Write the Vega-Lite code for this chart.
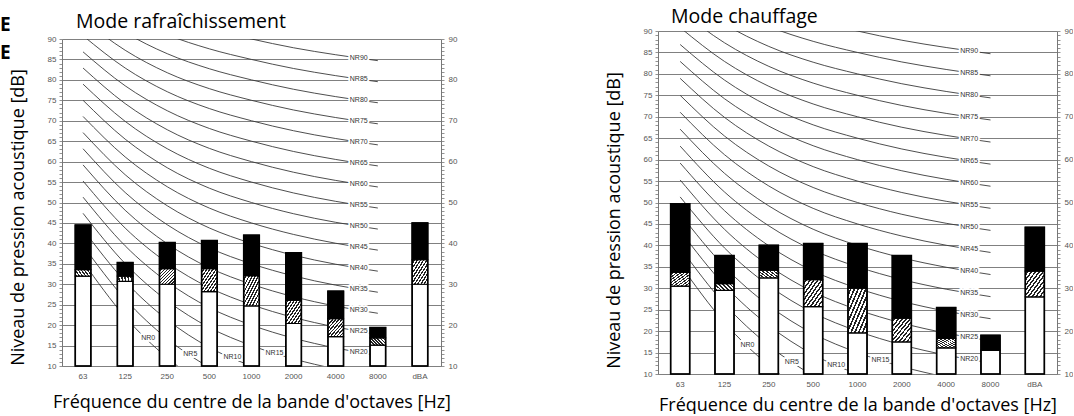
{
  "$schema": "https://vega.github.io/schema/vega-lite/v6.json",
  "background": "white",
  "padding": {"left": 0, "top": 6, "right": 0, "bottom": 0},
  "title": {"text": ["E", "E"], "anchor": "start", "frame": "bounds", "orient": "top", "fontSize": 19, "fontWeight": "bold", "font": "Open Sans", "color": "#000", "lineHeight": 28, "baseline": "top", "dx": -9, "dy": 60},
  "spacing": 217,
  "bounds": "flush",
  "center": true,
  "config": {
    "view": {"stroke": null},
    "font": "Liberation Sans",
    "axisX": {"ticks": false, "labelPadding": 6, "labelFont": "Liberation Sans", "labelFontSize": 8, "labelColor": "#555", "labelAngle": 0, "domain": true, "domainColor": "#808080", "titleFont": "Open Sans", "titleFontSize": 18, "titleFontWeight": "normal", "titleColor": "#000", "grid": false}
  },
  "datasets": {
    "nr": [
      {"nr": 0, "f": "63", "db": 35.5}, {"nr": 0, "f": "125", "db": 22}, {"nr": 0, "f": "250", "db": 12}, {"nr": 0, "f": "500", "db": 4.8}, {"nr": 0, "f": "1000", "db": 0}, {"nr": 0, "f": "2000", "db": -3.5}, {"nr": 0, "f": "4000", "db": -6.1}, {"nr": 0, "f": "8000", "db": -8},
      {"nr": 5, "f": "63", "db": 39.45}, {"nr": 5, "f": "125", "db": 26.35}, {"nr": 5, "f": "250", "db": 16.65}, {"nr": 5, "f": "500", "db": 9.67}, {"nr": 5, "f": "1000", "db": 5}, {"nr": 5, "f": "2000", "db": 1.58}, {"nr": 5, "f": "4000", "db": -0.98}, {"nr": 5, "f": "8000", "db": -2.85},
      {"nr": 10, "f": "63", "db": 43.4}, {"nr": 10, "f": "125", "db": 30.7}, {"nr": 10, "f": "250", "db": 21.3}, {"nr": 10, "f": "500", "db": 14.54}, {"nr": 10, "f": "1000", "db": 10}, {"nr": 10, "f": "2000", "db": 6.65}, {"nr": 10, "f": "4000", "db": 4.15}, {"nr": 10, "f": "8000", "db": 2.3},
      {"nr": 15, "f": "63", "db": 47.35}, {"nr": 15, "f": "125", "db": 35.05}, {"nr": 15, "f": "250", "db": 25.95}, {"nr": 15, "f": "500", "db": 19.41}, {"nr": 15, "f": "1000", "db": 15}, {"nr": 15, "f": "2000", "db": 11.73}, {"nr": 15, "f": "4000", "db": 9.28}, {"nr": 15, "f": "8000", "db": 7.45},
      {"nr": 20, "f": "63", "db": 51.3}, {"nr": 20, "f": "125", "db": 39.4}, {"nr": 20, "f": "250", "db": 30.6}, {"nr": 20, "f": "500", "db": 24.28}, {"nr": 20, "f": "1000", "db": 20}, {"nr": 20, "f": "2000", "db": 16.8}, {"nr": 20, "f": "4000", "db": 14.4}, {"nr": 20, "f": "8000", "db": 12.6},
      {"nr": 25, "f": "63", "db": 55.25}, {"nr": 25, "f": "125", "db": 43.75}, {"nr": 25, "f": "250", "db": 35.25}, {"nr": 25, "f": "500", "db": 29.15}, {"nr": 25, "f": "1000", "db": 25}, {"nr": 25, "f": "2000", "db": 21.88}, {"nr": 25, "f": "4000", "db": 19.53}, {"nr": 25, "f": "8000", "db": 17.75},
      {"nr": 30, "f": "63", "db": 59.2}, {"nr": 30, "f": "125", "db": 48.1}, {"nr": 30, "f": "250", "db": 39.9}, {"nr": 30, "f": "500", "db": 34.02}, {"nr": 30, "f": "1000", "db": 30}, {"nr": 30, "f": "2000", "db": 26.95}, {"nr": 30, "f": "4000", "db": 24.65}, {"nr": 30, "f": "8000", "db": 22.9},
      {"nr": 35, "f": "63", "db": 63.15}, {"nr": 35, "f": "125", "db": 52.45}, {"nr": 35, "f": "250", "db": 44.55}, {"nr": 35, "f": "500", "db": 38.89}, {"nr": 35, "f": "1000", "db": 35}, {"nr": 35, "f": "2000", "db": 32.03}, {"nr": 35, "f": "4000", "db": 29.78}, {"nr": 35, "f": "8000", "db": 28.05},
      {"nr": 40, "f": "63", "db": 67.1}, {"nr": 40, "f": "125", "db": 56.8}, {"nr": 40, "f": "250", "db": 49.2}, {"nr": 40, "f": "500", "db": 43.76}, {"nr": 40, "f": "1000", "db": 40}, {"nr": 40, "f": "2000", "db": 37.1}, {"nr": 40, "f": "4000", "db": 34.9}, {"nr": 40, "f": "8000", "db": 33.2},
      {"nr": 45, "f": "63", "db": 71.05}, {"nr": 45, "f": "125", "db": 61.15}, {"nr": 45, "f": "250", "db": 53.85}, {"nr": 45, "f": "500", "db": 48.63}, {"nr": 45, "f": "1000", "db": 45}, {"nr": 45, "f": "2000", "db": 42.18}, {"nr": 45, "f": "4000", "db": 40.03}, {"nr": 45, "f": "8000", "db": 38.35},
      {"nr": 50, "f": "63", "db": 75}, {"nr": 50, "f": "125", "db": 65.5}, {"nr": 50, "f": "250", "db": 58.5}, {"nr": 50, "f": "500", "db": 53.5}, {"nr": 50, "f": "1000", "db": 50}, {"nr": 50, "f": "2000", "db": 47.25}, {"nr": 50, "f": "4000", "db": 45.15}, {"nr": 50, "f": "8000", "db": 43.5},
      {"nr": 55, "f": "63", "db": 78.95}, {"nr": 55, "f": "125", "db": 69.85}, {"nr": 55, "f": "250", "db": 63.15}, {"nr": 55, "f": "500", "db": 58.37}, {"nr": 55, "f": "1000", "db": 55}, {"nr": 55, "f": "2000", "db": 52.33}, {"nr": 55, "f": "4000", "db": 50.28}, {"nr": 55, "f": "8000", "db": 48.65},
      {"nr": 60, "f": "63", "db": 82.9}, {"nr": 60, "f": "125", "db": 74.2}, {"nr": 60, "f": "250", "db": 67.8}, {"nr": 60, "f": "500", "db": 63.24}, {"nr": 60, "f": "1000", "db": 60}, {"nr": 60, "f": "2000", "db": 57.4}, {"nr": 60, "f": "4000", "db": 55.4}, {"nr": 60, "f": "8000", "db": 53.8},
      {"nr": 65, "f": "63", "db": 86.85}, {"nr": 65, "f": "125", "db": 78.55}, {"nr": 65, "f": "250", "db": 72.45}, {"nr": 65, "f": "500", "db": 68.11}, {"nr": 65, "f": "1000", "db": 65}, {"nr": 65, "f": "2000", "db": 62.48}, {"nr": 65, "f": "4000", "db": 60.53}, {"nr": 65, "f": "8000", "db": 58.95},
      {"nr": 70, "f": "63", "db": 90.8}, {"nr": 70, "f": "125", "db": 82.9}, {"nr": 70, "f": "250", "db": 77.1}, {"nr": 70, "f": "500", "db": 72.98}, {"nr": 70, "f": "1000", "db": 70}, {"nr": 70, "f": "2000", "db": 67.55}, {"nr": 70, "f": "4000", "db": 65.65}, {"nr": 70, "f": "8000", "db": 64.1},
      {"nr": 75, "f": "63", "db": 94.75}, {"nr": 75, "f": "125", "db": 87.25}, {"nr": 75, "f": "250", "db": 81.75}, {"nr": 75, "f": "500", "db": 77.85}, {"nr": 75, "f": "1000", "db": 75}, {"nr": 75, "f": "2000", "db": 72.63}, {"nr": 75, "f": "4000", "db": 70.78}, {"nr": 75, "f": "8000", "db": 69.25},
      {"nr": 80, "f": "63", "db": 98.7}, {"nr": 80, "f": "125", "db": 91.6}, {"nr": 80, "f": "250", "db": 86.4}, {"nr": 80, "f": "500", "db": 82.72}, {"nr": 80, "f": "1000", "db": 80}, {"nr": 80, "f": "2000", "db": 77.7}, {"nr": 80, "f": "4000", "db": 75.9}, {"nr": 80, "f": "8000", "db": 74.4},
      {"nr": 85, "f": "63", "db": 102.65}, {"nr": 85, "f": "125", "db": 95.95}, {"nr": 85, "f": "250", "db": 91.05}, {"nr": 85, "f": "500", "db": 87.59}, {"nr": 85, "f": "1000", "db": 85}, {"nr": 85, "f": "2000", "db": 82.78}, {"nr": 85, "f": "4000", "db": 81.03}, {"nr": 85, "f": "8000", "db": 79.55},
      {"nr": 90, "f": "63", "db": 106.6}, {"nr": 90, "f": "125", "db": 100.3}, {"nr": 90, "f": "250", "db": 95.7}, {"nr": 90, "f": "500", "db": 92.46}, {"nr": 90, "f": "1000", "db": 90}, {"nr": 90, "f": "2000", "db": 87.85}, {"nr": 90, "f": "4000", "db": 86.15}, {"nr": 90, "f": "8000", "db": 84.7}
    ],
    "lab": [
      {"t": "NR0", "f": "125", "db": 16.8}, {"t": "NR5", "f": "250", "db": 12.9}, {"t": "NR10", "f": "500", "db": 12.2}, {"t": "NR15", "f": "1000", "db": 13.2},
      {"t": "NR20", "f": "4000", "db": 13.4}, {"t": "NR25", "f": "4000", "db": 18.55}, {"t": "NR30", "f": "4000", "db": 23.69}, {"t": "NR35", "f": "4000", "db": 28.83},
      {"t": "NR40", "f": "4000", "db": 33.97}, {"t": "NR45", "f": "4000", "db": 39.11}, {"t": "NR50", "f": "4000", "db": 44.24}, {"t": "NR55", "f": "4000", "db": 49.38},
      {"t": "NR60", "f": "4000", "db": 54.52}, {"t": "NR65", "f": "4000", "db": 59.66}, {"t": "NR70", "f": "4000", "db": 64.8}, {"t": "NR75", "f": "4000", "db": 69.94},
      {"t": "NR80", "f": "4000", "db": 75.08}, {"t": "NR85", "f": "4000", "db": 80.22}, {"t": "NR90", "f": "4000", "db": 85.35}
    ],
    "cool": [
      {"f": "63", "base": 32, "hatch": 33.6, "top": 44.5},
      {"f": "125", "base": 30.7, "hatch": 32, "top": 35.3},
      {"f": "250", "base": 30, "hatch": 33.8, "top": 40.2},
      {"f": "500", "base": 28.2, "hatch": 33.8, "top": 40.7},
      {"f": "1000", "base": 24.7, "hatch": 32.1, "top": 42},
      {"f": "2000", "base": 20.4, "hatch": 26.1, "top": 37.7},
      {"f": "4000", "base": 17.2, "hatch": 21.6, "top": 28.3},
      {"f": "8000", "base": 15.1, "hatch": 16.9, "top": 19.4},
      {"f": "dBA", "base": 30, "hatch": 36, "top": 45}
    ],
    "heat": [
      {"f": "63", "base": 30.5, "hatch": 33.7, "top": 49.7},
      {"f": "125", "base": 29.5, "hatch": 31.1, "top": 37.6},
      {"f": "250", "base": 32.4, "hatch": 34.2, "top": 40},
      {"f": "500", "base": 25.7, "hatch": 32, "top": 40.4},
      {"f": "1000", "base": 19.6, "hatch": 30, "top": 40.4},
      {"f": "2000", "base": 17.5, "hatch": 23, "top": 37.6},
      {"f": "4000", "base": 16.1, "hatch": 18.3, "top": 25.5},
      {"f": "8000", "base": 15.5, "hatch": 15.5, "top": 19},
      {"f": "dBA", "base": 28, "hatch": 34, "top": 44.2}
    ]
  },
  "hconcat": [
    {
      "width": 379,
      "height": 327,
      "title": {"text": "Mode rafraîchissement", "anchor": "start", "frame": "group", "dx": 14, "offset": -12, "baseline": "alphabetic", "fontSize": 19.5, "font": "Open Sans", "fontWeight": "normal", "color": "#000"},
      "resolve": {"scale": {"y": "independent"}},
      "layer": [
        {
          "data": {"name": "nr"},
          "mark": {"type": "line", "interpolate": "monotone", "clip": true, "stroke": "#3a3a3a", "strokeWidth": 0.9},
          "encoding": {
            "x": {"field": "f", "type": "ordinal", "title": "Fréquence du centre de la bande d'octaves [Hz]", "scale": {"domain": ["63", "125", "250", "500", "1000", "2000", "4000", "8000", "dBA"], "paddingInner": 0, "paddingOuter": 0},
              "axis": {"titlePadding": 13}},
            "y": {"field": "db", "type": "quantitative", "scale": {"domain": [10, 90], "nice": false, "zero": false},
              "axis": {"orient": "left", "values": [10,11,12,13,14,15,16,17,18,19,20,21,22,23,24,25,26,27,28,29,30,31,32,33,34,35,36,37,38,39,40,41,42,43,44,45,46,47,48,49,50,51,52,53,54,55,56,57,58,59,60,61,62,63,64,65,66,67,68,69,70,71,72,73,74,75,76,77,78,79,80,81,82,83,84,85,86,87,88,89,90],
                "labelExpr": "datum.value % 5 === 0 ? datum.label : ''", "labelOverlap": false, "labelFont": "Liberation Sans", "labelFontSize": 8, "labelColor": "#555", "labelPadding": 3,
                "tickSize": 3, "tickColor": "#777", "tickWidth": 0.8, "domainColor": "#777",
                "grid": true, "gridColor": "#808080", "gridWidth": 1, "gridOpacity": {"condition": {"test": "datum.value % 5 === 0", "value": 1}, "value": 0},
                "title": "Niveau de pression acoustique [dB]", "titleFont": "Open Sans", "titleFontSize": 18, "titleFontWeight": "normal", "titleColor": "#000", "titlePadding": 20, "titleY": 178}},
            "detail": {"field": "nr", "type": "nominal"},
            "order": {"value": null}
          }
        },
        {
          "data": {"name": "lab"},
          "mark": {"type": "text", "dx": 23, "fontSize": 7, "font": "Liberation Sans", "fill": "white", "stroke": "white", "strokeWidth": 4, "strokeJoin": "round", "align": "center", "baseline": "middle"},
          "encoding": {
            "x": {"field": "f", "type": "ordinal", "title": "Fréquence du centre de la bande d'octaves [Hz]"},
            "y": {"field": "db", "type": "quantitative", "scale": {"domain": [10, 90], "nice": false, "zero": false}, "axis": null},
            "text": {"field": "t"}
          }
        },
        {
          "data": {"name": "lab"},
          "mark": {"type": "text", "dx": 23, "fontSize": 7, "font": "Liberation Sans", "fill": "#333", "align": "center", "baseline": "middle"},
          "encoding": {
            "x": {"field": "f", "type": "ordinal", "title": "Fréquence du centre de la bande d'octaves [Hz]"},
            "y": {"field": "db", "type": "quantitative", "scale": {"domain": [10, 90], "nice": false, "zero": false}, "axis": null},
            "text": {"field": "t"}
          }
        },
        {
          "data": {"name": "cool"},
          "mark": {"type": "bar", "width": {"band": 0.37}, "fill": "white", "stroke": "#000", "strokeWidth": 1.2},
          "encoding": {
            "x": {"field": "f", "type": "ordinal", "title": "Fréquence du centre de la bande d'octaves [Hz]"},
            "y": {"field": "base", "type": "quantitative", "scale": {"domain": [10, 90], "nice": false, "zero": false}, "axis": null},
            "y2": {"datum": 10}
          }
        },
        {
          "data": {"name": "cool"},
          "mark": {"type": "bar", "width": {"band": 0.37}, "stroke": "#000", "strokeWidth": 1.2,
            "fill": {"gradient": "linear", "x1": 0, "y1": 0, "x2": 1, "y2": 1, "stops": [
              {"offset": 0, "color": "#ffffff"}, {"offset": 0.055, "color": "#ffffff"}, {"offset": 0.055, "color": "#222222"}, {"offset": 0.1, "color": "#222222"},
              {"offset": 0.1, "color": "#ffffff"}, {"offset": 0.155, "color": "#ffffff"}, {"offset": 0.155, "color": "#222222"}, {"offset": 0.2, "color": "#222222"},
              {"offset": 0.2, "color": "#ffffff"}, {"offset": 0.255, "color": "#ffffff"}, {"offset": 0.255, "color": "#222222"}, {"offset": 0.3, "color": "#222222"},
              {"offset": 0.3, "color": "#ffffff"}, {"offset": 0.355, "color": "#ffffff"}, {"offset": 0.355, "color": "#222222"}, {"offset": 0.4, "color": "#222222"},
              {"offset": 0.4, "color": "#ffffff"}, {"offset": 0.455, "color": "#ffffff"}, {"offset": 0.455, "color": "#222222"}, {"offset": 0.5, "color": "#222222"},
              {"offset": 0.5, "color": "#ffffff"}, {"offset": 0.555, "color": "#ffffff"}, {"offset": 0.555, "color": "#222222"}, {"offset": 0.6, "color": "#222222"},
              {"offset": 0.6, "color": "#ffffff"}, {"offset": 0.655, "color": "#ffffff"}, {"offset": 0.655, "color": "#222222"}, {"offset": 0.7, "color": "#222222"},
              {"offset": 0.7, "color": "#ffffff"}, {"offset": 0.755, "color": "#ffffff"}, {"offset": 0.755, "color": "#222222"}, {"offset": 0.8, "color": "#222222"},
              {"offset": 0.8, "color": "#ffffff"}, {"offset": 0.855, "color": "#ffffff"}, {"offset": 0.855, "color": "#222222"}, {"offset": 0.9, "color": "#222222"},
              {"offset": 0.9, "color": "#ffffff"}, {"offset": 0.955, "color": "#ffffff"}, {"offset": 0.955, "color": "#222222"}, {"offset": 1, "color": "#222222"}]}},
          "encoding": {
            "x": {"field": "f", "type": "ordinal", "title": "Fréquence du centre de la bande d'octaves [Hz]"},
            "y": {"field": "hatch", "type": "quantitative", "scale": {"domain": [10, 90], "nice": false, "zero": false}, "axis": null},
            "y2": {"field": "base"}
          }
        },
        {
          "data": {"name": "cool"},
          "mark": {"type": "bar", "width": {"band": 0.37}, "fill": "#000", "stroke": "#000", "strokeWidth": 1.2},
          "encoding": {
            "x": {"field": "f", "type": "ordinal", "title": "Fréquence du centre de la bande d'octaves [Hz]"},
            "y": {"field": "top", "type": "quantitative", "scale": {"domain": [10, 90], "nice": false, "zero": false}, "axis": null},
            "y2": {"field": "hatch"}
          }
        },
        {
          "data": {"name": "cool"},
          "mark": {"type": "bar", "width": {"band": 0.37}, "fill": "white", "fillOpacity": 0, "stroke": "#000", "strokeWidth": 1.6},
          "encoding": {
            "x": {"field": "f", "type": "ordinal", "title": "Fréquence du centre de la bande d'octaves [Hz]"},
            "y": {"field": "top", "type": "quantitative", "scale": {"domain": [10, 90], "nice": false, "zero": false},
              "axis": {"orient": "right", "values": [10,11,12,13,14,15,16,17,18,19,20,21,22,23,24,25,26,27,28,29,30,31,32,33,34,35,36,37,38,39,40,41,42,43,44,45,46,47,48,49,50,51,52,53,54,55,56,57,58,59,60,61,62,63,64,65,66,67,68,69,70,71,72,73,74,75,76,77,78,79,80,81,82,83,84,85,86,87,88,89,90],
                "labelExpr": "datum.value % 10 === 0 ? datum.label : ''", "labelOverlap": false, "labelFont": "Liberation Sans", "labelFontSize": 8, "labelColor": "#555", "labelPadding": 4,
                "tickSize": 3, "tickColor": "#777", "tickWidth": 0.8, "domainColor": "#777", "grid": false, "title": null}},
            "y2": {"datum": 10}
          }
        }
      ]
    },
    {
      "width": 399,
      "height": 343,
      "title": {"text": "Mode chauffage", "anchor": "start", "frame": "group", "dx": 13, "offset": -15, "baseline": "alphabetic", "fontSize": 19.5, "font": "Open Sans", "fontWeight": "normal", "color": "#000"},
      "resolve": {"scale": {"y": "independent"}},
      "layer": [
        {
          "data": {"name": "nr"},
          "mark": {"type": "line", "interpolate": "monotone", "clip": true, "stroke": "#3a3a3a", "strokeWidth": 0.9},
          "encoding": {
            "x": {"field": "f", "type": "ordinal", "title": "Fréquence du centre de la bande d'octaves [Hz]", "scale": {"domain": ["63", "125", "250", "500", "1000", "2000", "4000", "8000", "dBA"], "paddingInner": 0, "paddingOuter": 0},
              "axis": {"titlePadding": 8}},
            "y": {"field": "db", "type": "quantitative", "scale": {"domain": [10, 90], "nice": false, "zero": false},
              "axis": {"orient": "left", "values": [10,11,12,13,14,15,16,17,18,19,20,21,22,23,24,25,26,27,28,29,30,31,32,33,34,35,36,37,38,39,40,41,42,43,44,45,46,47,48,49,50,51,52,53,54,55,56,57,58,59,60,61,62,63,64,65,66,67,68,69,70,71,72,73,74,75,76,77,78,79,80,81,82,83,84,85,86,87,88,89,90],
                "labelExpr": "datum.value % 5 === 0 ? datum.label : ''", "labelOverlap": false, "labelFont": "Liberation Sans", "labelFontSize": 8, "labelColor": "#555", "labelPadding": 3,
                "tickSize": 3, "tickColor": "#777", "tickWidth": 0.8, "domainColor": "#777",
                "grid": true, "gridColor": "#808080", "gridWidth": 1, "gridOpacity": {"condition": {"test": "datum.value % 5 === 0", "value": 1}, "value": 0},
                "title": "Niveau de pression acoustique [dB]", "titleFont": "Open Sans", "titleFontSize": 18, "titleFontWeight": "normal", "titleColor": "#000", "titlePadding": 20, "titleY": 189}},
            "detail": {"field": "nr", "type": "nominal"},
            "order": {"value": null}
          }
        },
        {
          "data": {"name": "lab"},
          "mark": {"type": "text", "dx": 23, "fontSize": 7, "font": "Liberation Sans", "fill": "white", "stroke": "white", "strokeWidth": 4, "strokeJoin": "round", "align": "center", "baseline": "middle"},
          "encoding": {
            "x": {"field": "f", "type": "ordinal", "title": "Fréquence du centre de la bande d'octaves [Hz]"},
            "y": {"field": "db", "type": "quantitative", "scale": {"domain": [10, 90], "nice": false, "zero": false}, "axis": null},
            "text": {"field": "t"}
          }
        },
        {
          "data": {"name": "lab"},
          "mark": {"type": "text", "dx": 23, "fontSize": 7, "font": "Liberation Sans", "fill": "#333", "align": "center", "baseline": "middle"},
          "encoding": {
            "x": {"field": "f", "type": "ordinal", "title": "Fréquence du centre de la bande d'octaves [Hz]"},
            "y": {"field": "db", "type": "quantitative", "scale": {"domain": [10, 90], "nice": false, "zero": false}, "axis": null},
            "text": {"field": "t"}
          }
        },
        {
          "data": {"name": "heat"},
          "mark": {"type": "bar", "width": {"band": 0.43}, "fill": "white", "stroke": "#000", "strokeWidth": 1.2},
          "encoding": {
            "x": {"field": "f", "type": "ordinal", "title": "Fréquence du centre de la bande d'octaves [Hz]"},
            "y": {"field": "base", "type": "quantitative", "scale": {"domain": [10, 90], "nice": false, "zero": false}, "axis": null},
            "y2": {"datum": 10}
          }
        },
        {
          "data": {"name": "heat"},
          "mark": {"type": "bar", "width": {"band": 0.43}, "stroke": "#000", "strokeWidth": 1.2,
            "fill": {"gradient": "linear", "x1": 0, "y1": 0, "x2": 1, "y2": 1, "stops": [
              {"offset": 0, "color": "#ffffff"}, {"offset": 0.055, "color": "#ffffff"}, {"offset": 0.055, "color": "#222222"}, {"offset": 0.1, "color": "#222222"},
              {"offset": 0.1, "color": "#ffffff"}, {"offset": 0.155, "color": "#ffffff"}, {"offset": 0.155, "color": "#222222"}, {"offset": 0.2, "color": "#222222"},
              {"offset": 0.2, "color": "#ffffff"}, {"offset": 0.255, "color": "#ffffff"}, {"offset": 0.255, "color": "#222222"}, {"offset": 0.3, "color": "#222222"},
              {"offset": 0.3, "color": "#ffffff"}, {"offset": 0.355, "color": "#ffffff"}, {"offset": 0.355, "color": "#222222"}, {"offset": 0.4, "color": "#222222"},
              {"offset": 0.4, "color": "#ffffff"}, {"offset": 0.455, "color": "#ffffff"}, {"offset": 0.455, "color": "#222222"}, {"offset": 0.5, "color": "#222222"},
              {"offset": 0.5, "color": "#ffffff"}, {"offset": 0.555, "color": "#ffffff"}, {"offset": 0.555, "color": "#222222"}, {"offset": 0.6, "color": "#222222"},
              {"offset": 0.6, "color": "#ffffff"}, {"offset": 0.655, "color": "#ffffff"}, {"offset": 0.655, "color": "#222222"}, {"offset": 0.7, "color": "#222222"},
              {"offset": 0.7, "color": "#ffffff"}, {"offset": 0.755, "color": "#ffffff"}, {"offset": 0.755, "color": "#222222"}, {"offset": 0.8, "color": "#222222"},
              {"offset": 0.8, "color": "#ffffff"}, {"offset": 0.855, "color": "#ffffff"}, {"offset": 0.855, "color": "#222222"}, {"offset": 0.9, "color": "#222222"},
              {"offset": 0.9, "color": "#ffffff"}, {"offset": 0.955, "color": "#ffffff"}, {"offset": 0.955, "color": "#222222"}, {"offset": 1, "color": "#222222"}]}},
          "encoding": {
            "x": {"field": "f", "type": "ordinal", "title": "Fréquence du centre de la bande d'octaves [Hz]"},
            "y": {"field": "hatch", "type": "quantitative", "scale": {"domain": [10, 90], "nice": false, "zero": false}, "axis": null},
            "y2": {"field": "base"}
          }
        },
        {
          "data": {"name": "heat"},
          "mark": {"type": "bar", "width": {"band": 0.43}, "fill": "#000", "stroke": "#000", "strokeWidth": 1.2},
          "encoding": {
            "x": {"field": "f", "type": "ordinal", "title": "Fréquence du centre de la bande d'octaves [Hz]"},
            "y": {"field": "top", "type": "quantitative", "scale": {"domain": [10, 90], "nice": false, "zero": false}, "axis": null},
            "y2": {"field": "hatch"}
          }
        },
        {
          "data": {"name": "heat"},
          "mark": {"type": "bar", "width": {"band": 0.43}, "fill": "white", "fillOpacity": 0, "stroke": "#000", "strokeWidth": 1.6},
          "encoding": {
            "x": {"field": "f", "type": "ordinal", "title": "Fréquence du centre de la bande d'octaves [Hz]"},
            "y": {"field": "top", "type": "quantitative", "scale": {"domain": [10, 90], "nice": false, "zero": false},
              "axis": {"orient": "right", "values": [10,11,12,13,14,15,16,17,18,19,20,21,22,23,24,25,26,27,28,29,30,31,32,33,34,35,36,37,38,39,40,41,42,43,44,45,46,47,48,49,50,51,52,53,54,55,56,57,58,59,60,61,62,63,64,65,66,67,68,69,70,71,72,73,74,75,76,77,78,79,80,81,82,83,84,85,86,87,88,89,90],
                "labelExpr": "datum.value % 10 === 0 ? datum.label : ''", "labelOverlap": false, "labelFont": "Liberation Sans", "labelFontSize": 8, "labelColor": "#555", "labelPadding": 4,
                "tickSize": 3, "tickColor": "#777", "tickWidth": 0.8, "domainColor": "#777", "grid": false, "title": null}},
            "y2": {"datum": 10}
          }
        }
      ]
    }
  ]
}
